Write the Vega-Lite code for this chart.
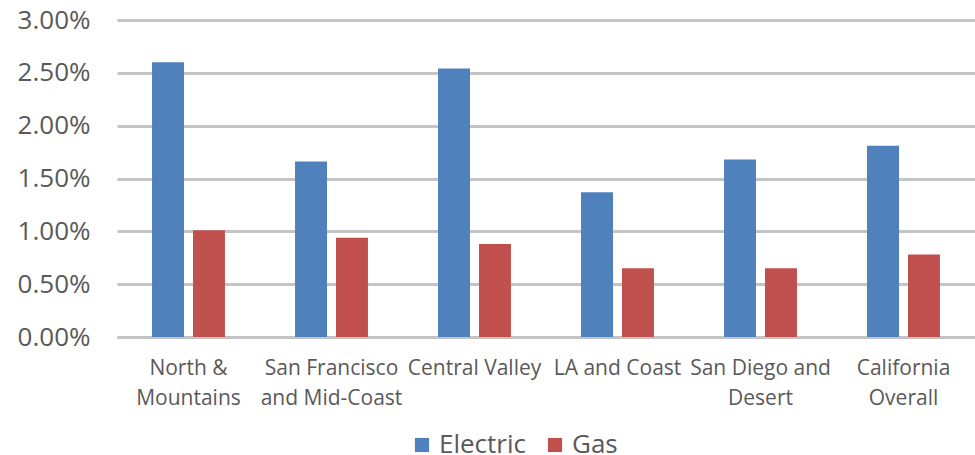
{"$schema":"https://vega.github.io/schema/vega-lite/v6.json","width":858,"height":317,"padding":{"left":117,"top":20,"right":0,"bottom":118},"autosize":{"type":"none"},"background":"white","data":{"values":[
{"r":"North & Mountains","s":"Electric","v":0.026},{"r":"North & Mountains","s":"Gas","v":0.0101},
{"r":"San Francisco and Mid-Coast","s":"Electric","v":0.0166},{"r":"San Francisco and Mid-Coast","s":"Gas","v":0.0094},
{"r":"Central Valley","s":"Electric","v":0.0254},{"r":"Central Valley","s":"Gas","v":0.0088},
{"r":"LA and Coast","s":"Electric","v":0.0137},{"r":"LA and Coast","s":"Gas","v":0.0065},
{"r":"San Diego and Desert","s":"Electric","v":0.0168},{"r":"San Diego and Desert","s":"Gas","v":0.0065},
{"r":"California Overall","s":"Electric","v":0.0181},{"r":"California Overall","s":"Gas","v":0.0078}]},
"mark":{"type":"bar"},
"config":{"view":{"stroke":null}},
"encoding":{
"x":{"field":"r","type":"nominal","sort":null,"scale":{"paddingInner":0.49,"paddingOuter":0.245},"axis":{"title":null,"labelAngle":0,"labelFont":"Open Sans","labelFontSize":21,"labelColor":"#595959","labelLimit":150,"ticks":false,"domainColor":"#c4c4c4","domainWidth":3,"labelPadding":20,"labelBaseline":"top","labelExpr":"datum.label=='North & Mountains'?['North &','Mountains']:datum.label=='San Francisco and Mid-Coast'?['San Francisco','and Mid-Coast']:datum.label=='San Diego and Desert'?['San Diego and','Desert']:datum.label=='California Overall'?['California','Overall']:datum.label","labelLineHeight":30}},
"xOffset":{"field":"s","type":"nominal","scale":{"paddingInner":0.22}},
"y":{"field":"v","type":"quantitative","scale":{"domain":[0,0.03]},"axis":{"title":null,"format":".2%","values":[0,0.005,0.01,0.015,0.02,0.025,0.03],"ticks":false,"domain":false,"labelFont":"Open Sans","labelFontSize":26,"labelColor":"#595959","labelPadding":27,"gridColor":"#c4c4c4","gridWidth":3}},
"color":{"field":"s","type":"nominal","scale":{"domain":["Electric","Gas"],"range":["#4f81bd","#c0504d"]},"legend":{"title":null,"orient":"none","legendX":292,"legendY":412,"direction":"horizontal","symbolType":"square","symbolSize":200,"labelFont":"Open Sans","labelFontSize":26,"labelColor":"#595959","columnPadding":16}}}}
